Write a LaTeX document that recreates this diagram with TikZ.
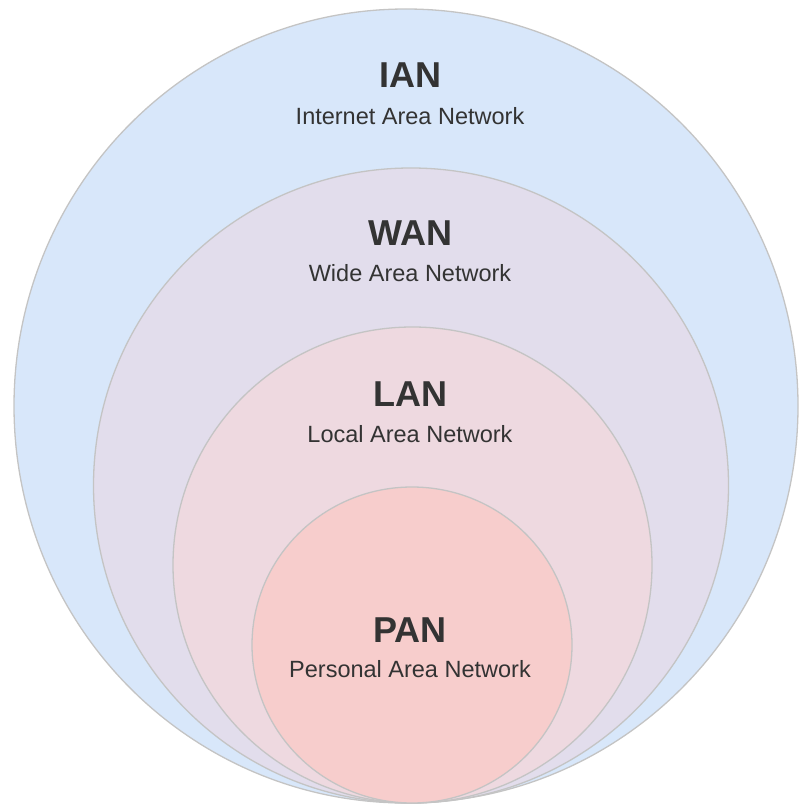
\documentclass[tikz,border=0pt]{standalone}
\usepackage{fontspec}
\setmainfont{Liberation Sans}
\definecolor{ianfill}{HTML}{D8E7FA}
\definecolor{wanfill}{HTML}{E2DDEC}
\definecolor{lanfill}{HTML}{EED9E0}
\definecolor{panfill}{HTML}{F7CDCC}
\definecolor{ringline}{HTML}{C4C4C4}
\definecolor{txt}{HTML}{333333}
\begin{document}
\begin{tikzpicture}[x=1pt,y=1pt,
  ring/.style={draw=ringline,line width=1.3pt},
  title/.style={font=\fontsize{36}{40}\selectfont\bfseries,text=txt,inner sep=0pt},
  subtitle/.style={font=\fontsize{23.5}{27}\selectfont,text=txt,inner sep=0pt}]
\useasboundingbox (0,0) rectangle (800,-805);
% nested areas, all touching at the bottom
\fill[ianfill,ring] (406,-406) ellipse [x radius=392,y radius=397];
\fill[wanfill,ring] (411,-485.5) ellipse [x radius=317.5,y radius=317.5];
\fill[lanfill,ring] (412.5,-565) ellipse [x radius=239.5,y radius=238];
\fill[panfill,ring] (412,-645) ellipse [x radius=160,y radius=158];
% labels
\node[title] (ian) at (410,-75) {IAN};
\node[subtitle] (iansub) at (410,-116) {Internet Area Network};
\node[title] (wan) at (410,-233) {WAN};
\node[subtitle] (wansub) at (410,-273) {Wide Area Network};
\node[title] (lan) at (410,-394) {LAN};
\node[subtitle] (lansub) at (410,-434) {Local Area Network};
\node[title] (pan) at (410,-630) {PAN};
\node[subtitle] (pansub) at (410,-669) {Personal Area Network};
\end{tikzpicture}
\end{document}
